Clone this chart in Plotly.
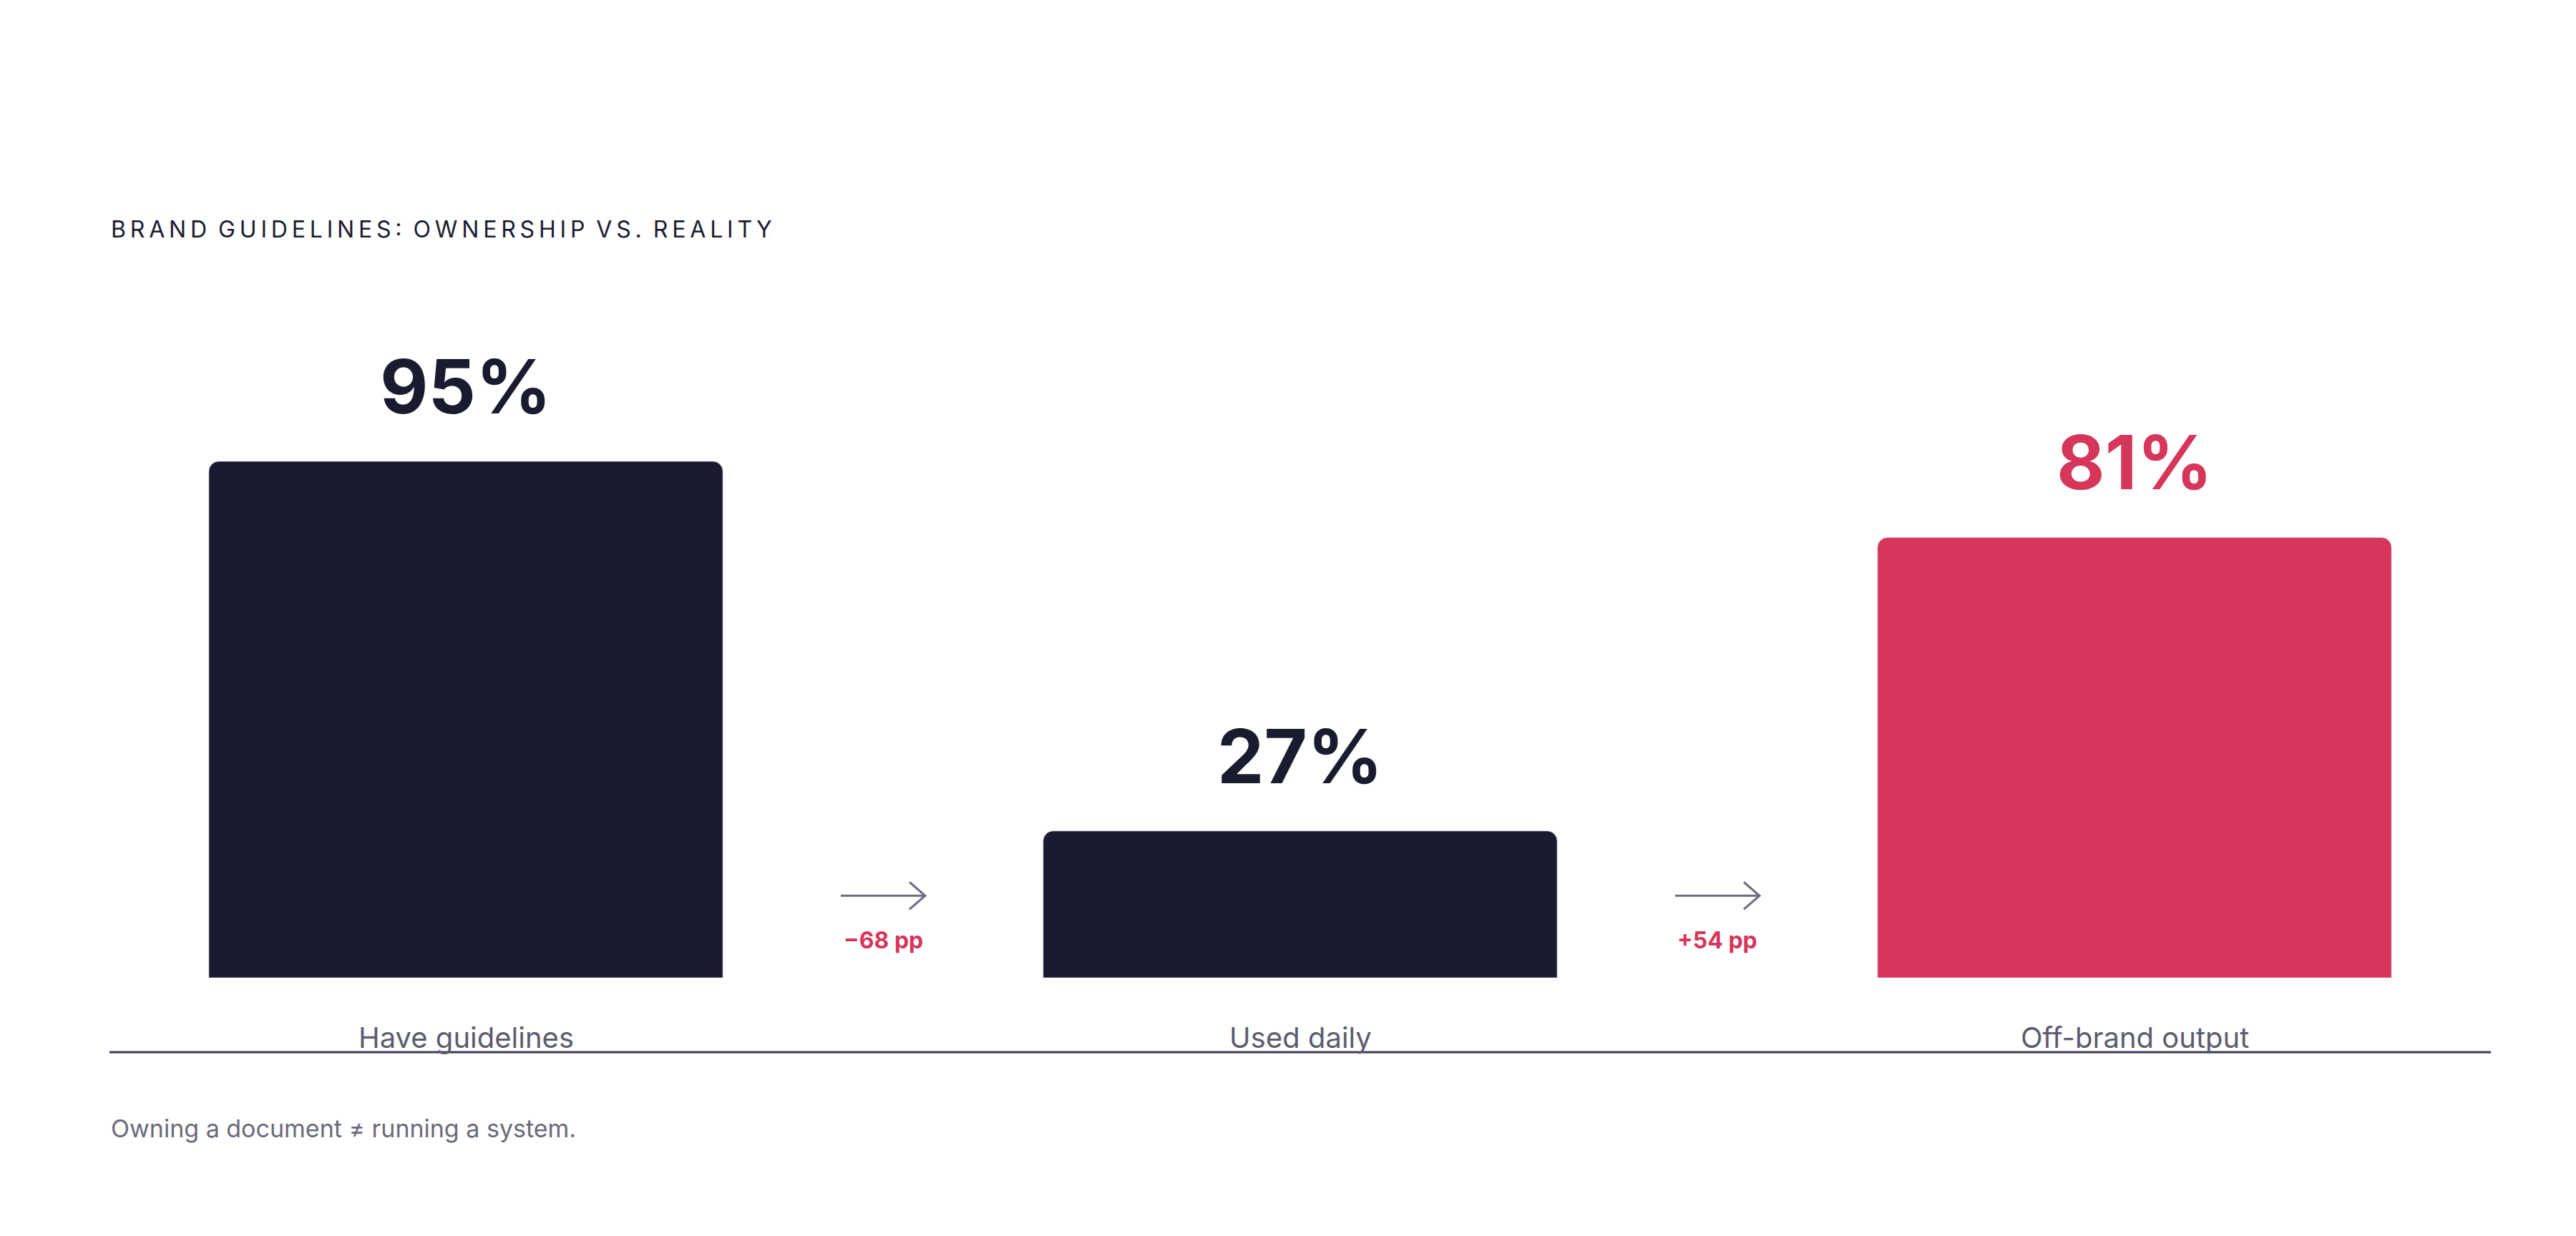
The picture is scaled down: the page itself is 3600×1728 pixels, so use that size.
import plotly.graph_objects as go

categories = ["Have guidelines", "Used daily", "Off-brand output"]
values = [95, 27, 81]
value_labels = ["95%", "27%", "81%"]
bar_colors = ["#1b1b2f", "#1b1b2f", "#d6365a"]
deltas = ["−68 pp", "+54 pp"]
delta_pos = [0.5, 1.5]

DARK = "#1b1b2f"; RED = "#d6365a"; GRAY = "#5c5c6e"
FONT = "Inter"

fig = go.Figure(go.Bar(x=list(range(3)), y=values, marker=dict(color=bar_colors, cornerradius=14),
                       width=0.616, hoverinfo="skip"))

ann = []
for i, (v, t, c) in enumerate(zip(values, value_labels, bar_colors)):
    ann.append(dict(x=i, y=v, text=f"<b>{t}</b>", showarrow=False, yanchor="bottom", yshift=40,
                    font=dict(family=FONT, size=104, color=c)))
    ann.append(dict(x=i, y=0, text=categories[i], showarrow=False, yanchor="middle", yshift=-83,
                    font=dict(family=FONT, size=40, color=GRAY)))
shapes = []
for xp, d in zip(delta_pos, deltas):
    ann.append(dict(x=xp, y=15.1, text=f"<b>{d}</b>", showarrow=False, yanchor="middle", yshift=-62,
                    font=dict(family=FONT, size=32, color=RED)))
    shapes.append(dict(type="path", xref="x", yref="y", xsizemode="pixel", ysizemode="pixel",
                       xanchor=xp, yanchor=15.1,
                       path="M -59,0 L 59,0 M 37,19 L 59,0 L 37,-19",
                       line=dict(color="#6e6e7e", width=3)))
shapes.append(dict(type="line", xref="paper", yref="paper", x0=(145-60)/3498, x1=(3473-60)/3498,
                   y0=-104/760, y1=-104/760, line=dict(color="#3a3a58", width=3)))
ann.append(dict(xref="paper", yref="paper", x=(145-60)/3498, y=(1359-312)/760, xanchor="left", yanchor="middle",
                text="B R A N D  G U I D E L I N E S :  O W N E R S H I P  V S .  R E A L I T Y".replace("  ", "\u2003").replace(" ", "\u2009").replace("\u2003", "\u2002"),
                showarrow=False, font=dict(family=FONT, size=32, color=DARK)))
ann.append(dict(xref="paper", yref="paper", x=(145-60)/3498, y=(1359-1569)/760, xanchor="left", yanchor="middle",
                text="Owning a document ≠ running a system.", showarrow=False,
                font=dict(family=FONT, size=34, color="#6a6a7a")))

fig.update_layout(width=3600, height=1728, margin=dict(l=60, r=42, t=599, b=369),
                  paper_bgcolor="white", plot_bgcolor="white", showlegend=False,
                  xaxis=dict(range=[-0.5, 2.5], visible=False),
                  yaxis=dict(range=[0, 100], visible=False),
                  annotations=ann, shapes=shapes)
fig.write_html("out.html")
